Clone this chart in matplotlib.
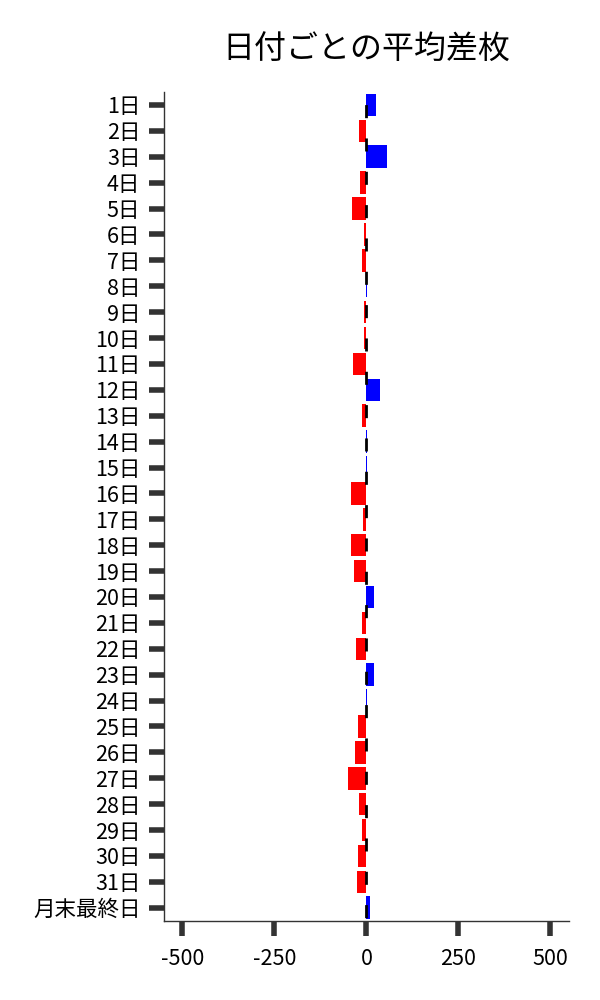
import numpy as np
import matplotlib
matplotlib.use("Agg")
import matplotlib.pyplot as plt

plt.rcParams['font.family'] = ['Noto Sans CJK JP', 'DejaVu Sans']
plt.rcParams['axes.unicode_minus'] = False

# average difference per day of month
days = [f"{i}日" for i in range(1, 32)] + ["月末最終日"]
avg_diff = [25, -21, 55, -18, -40, -7, -11, 1, -6, -6, -37, 38, -13, 1, 1, -43,
            -10, -43, -34, 22, -13, -29, 22, 1, -24, -32, -51, -21, -13, -24, -26, 11]
x_ticks = [-500, -250, 0, 250, 500]


def main():
    fig = plt.figure(figsize=(6, 10), dpi=100)
    ax = fig.add_axes([0.2733, 0.0793, 0.6747, 0.8287])

    colors = ['blue' if v > 0 else 'red' for v in avg_diff]
    pos = np.arange(len(days))
    ax.barh(pos, avg_diff, height=0.87, color=colors, zorder=2)
    # dashed zero line on top of the bars
    ax.axvline(0, color='black', lw=2, linestyle=(10.8, (4.7, 7.3)), zorder=3)

    ax.set_yticks(pos)
    ax.set_yticklabels(days)
    ax.set_ylim(len(days) - 0.5, -0.5)
    ax.set_xlim(-550, 550)
    ax.set_xticks(x_ticks)

    ax.tick_params(axis='both', length=11, width=4, color='#333333',
                   labelsize=15.5)
    ax.tick_params(axis='x', pad=9)
    ax.tick_params(axis='y', pad=6)
    for side in ['top', 'right']:
        ax.spines[side].set_visible(False)
    for side in ['left', 'bottom']:
        ax.spines[side].set_color('#333333')
        ax.spines[side].set_linewidth(1)

    ax.set_title("日付ごとの平均差枚", fontsize=23, pad=24)
    fig.savefig("out.png", dpi=100)


if __name__ == "__main__":
    main()
